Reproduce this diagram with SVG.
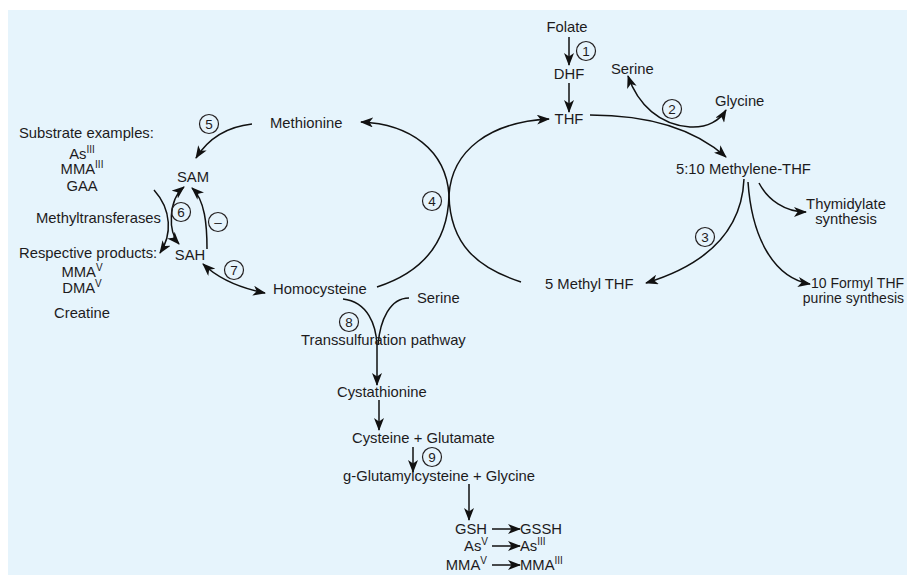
<svg xmlns="http://www.w3.org/2000/svg" width="907" height="576" viewBox="0 0 907 576">
<defs>
<style>
text{font-family:"Liberation Sans",Arial,sans-serif;font-size:14.8px;fill:#1d1b1c}
.m{text-anchor:middle}
.e{text-anchor:end}
.sm{font-size:14px}
.sup{font-size:10px}
.num{font-size:13.5px;text-anchor:middle}
.c{fill:none;stroke:#231f20;stroke-width:1.2}
.l{fill:none;stroke:#111;stroke-width:1.5}
.a{marker-end:url(#ah)}
.b{marker-start:url(#ah);marker-end:url(#ah)}
</style>
<marker id="ah" markerUnits="userSpaceOnUse" markerWidth="13" markerHeight="10" viewBox="0 0 13 10" refX="12" refY="5" orient="auto-start-reverse">
<path d="M0,0 L13,5 L0,10 L3.5,5 z" fill="#111"/>
</marker>
</defs>
<rect x="8" y="10" width="899" height="565" fill="#e6f4fc"/>

<g id="connectors">
<path class="l a" d="M569,37 L569,65"/>
<path class="l a" d="M569,83 L569,112"/>
<path class="l b" d="M628,76 C638,105 660,125 690,127 C708,128 720,120 726,110"/>
<path class="l a" d="M590,115 C640,115 690,125 726,157"/>
<path class="l a" d="M744,179 C742,225 715,262 646,283"/>
<path class="l a" d="M748,182 C752,240 775,278 810,284"/>
<path class="l a" d="M759,183 C768,200 785,212 806,212"/>
<path class="l a" d="M377,287 C420,273 448,245 449,195 C446,150 410,124 361,122"/>
<path class="l a" d="M521,282 C478,268 450,245 449,195 C452,150 490,122 549,119"/>
<path class="l a" d="M252,124 Q215,128 196,158"/>
<path class="l a" d="M154,190 C172,210 172,235 160,253"/>
<path class="l b" d="M184,187 C168,200 168,232 179,244"/>
<path class="l a" d="M207,249 C207,225 205,200 192,188"/>
<path class="l b" d="M203,264 Q225,285 265,293"/>
<path class="l a" d="M343,299 C368,302 376,325 377,345 L377,385"/>
<path class="l" d="M409,298 C390,298 380,320 378,345"/>
<path class="l a" d="M379,400 L379,430"/>
<path class="l a" d="M413,447 L413,472"/>
<path class="l a" d="M469,484 L469,520"/>
<path class="l a" d="M492,529 L520,529"/>
<path class="l a" d="M492,546 L520,546"/>
<path class="l a" d="M492,565 L520,565"/>
</g>

<g id="step-labels">
<g id="s1"><circle class="c" cx="586" cy="51" r="9.5"/><text class="num" x="586" y="56">1</text></g>
<g id="s2"><circle class="c" cx="672" cy="109" r="9.5"/><text class="num" x="672" y="114">2</text></g>
<g id="s3"><circle class="c" cx="705" cy="237" r="9.5"/><text class="num" x="705" y="242">3</text></g>
<g id="s4"><circle class="c" cx="432" cy="201" r="9.5"/><text class="num" x="432" y="206">4</text></g>
<g id="s5"><circle class="c" cx="209" cy="124" r="9.5"/><text class="num" x="209" y="129">5</text></g>
<g id="s6"><circle class="c" cx="181" cy="212" r="9.5"/><text class="num" x="181" y="217">6</text></g>
<g id="sminus"><circle class="c" cx="218" cy="222" r="9.5"/><text class="num" x="218" y="227">–</text></g>
<g id="s7"><circle class="c" cx="234" cy="270" r="9.5"/><text class="num" x="234" y="275">7</text></g>
<g id="s8"><circle class="c" cx="349" cy="322" r="9.5"/><text class="num" x="349" y="327">8</text></g>
<g id="s9"><circle class="c" cx="432" cy="457" r="9.5"/><text class="num" x="432" y="462">9</text></g>
</g>

<g id="folate"><text class="m" x="567" y="32">Folate</text></g>
<g id="dhf"><text class="m" x="569" y="79">DHF</text></g>
<g id="thf"><text class="m" x="569" y="124">THF</text></g>
<g id="serine-top"><text x="611" y="74">Serine</text></g>
<g id="glycine"><text x="715" y="106">Glycine</text></g>
<g id="methylene-thf"><text x="676" y="174">5:10 Methylene-THF</text></g>
<g id="thymidylate"><text class="m" x="846" y="209">Thymidylate</text><text class="m" x="846" y="224">synthesis</text></g>
<g id="formyl-thf"><text class="sm" x="811" y="288">10 Formyl THF</text><text class="sm e" x="904" y="303">purine synthesis</text></g>
<g id="methyl-thf"><text x="545" y="289">5 Methyl THF</text></g>
<g id="methionine"><text x="270" y="128">Methionine</text></g>
<g id="homocysteine"><text x="273" y="294">Homocysteine</text></g>
<g id="serine-bottom"><text x="417" y="303">Serine</text></g>
<g id="transsulfuration"><text x="301" y="345">Transsulfuration pathway</text></g>
<g id="cystathionine"><text x="337" y="397">Cystathionine</text></g>
<g id="cysteine"><text x="352" y="443">Cysteine + Glutamate</text></g>
<g id="glutamylcysteine"><text x="343" y="481">g-Glutamylcysteine + Glycine</text></g>
<g id="gsh">
<text class="e" x="487" y="534">GSH</text><text x="520" y="534">GSSH</text>
<text class="e" x="488" y="551">As<tspan class="sup" dy="-6">V</tspan></text><text x="520" y="551">As<tspan class="sup" dy="-6">III</tspan></text>
<text class="e" x="487" y="570">MMA<tspan class="sup" dy="-6">V</tspan></text><text x="520" y="570">MMA<tspan class="sup" dy="-6">III</tspan></text>
</g>
<g id="sam"><text class="m" x="193" y="182">SAM</text></g>
<g id="sah"><text class="m" x="190" y="260">SAH</text></g>
<g id="substrates">
<text x="19" y="138">Substrate examples:</text>
<text class="m" x="82" y="159">As<tspan class="sup" dy="-6">III</tspan></text>
<text class="m" x="82" y="174">MMA<tspan class="sup" dy="-6">III</tspan></text>
<text class="m" x="82" y="191">GAA</text>
</g>
<g id="methyltransferases"><text x="36" y="223">Methyltransferases</text></g>
<g id="products">
<text x="19" y="258">Respective products:</text>
<text class="m" x="82" y="277">MMA<tspan class="sup" dy="-6">V</tspan></text>
<text class="m" x="82" y="293">DMA<tspan class="sup" dy="-6">V</tspan></text>
<text class="m" x="82" y="318">Creatine</text>
</g>
</svg>
